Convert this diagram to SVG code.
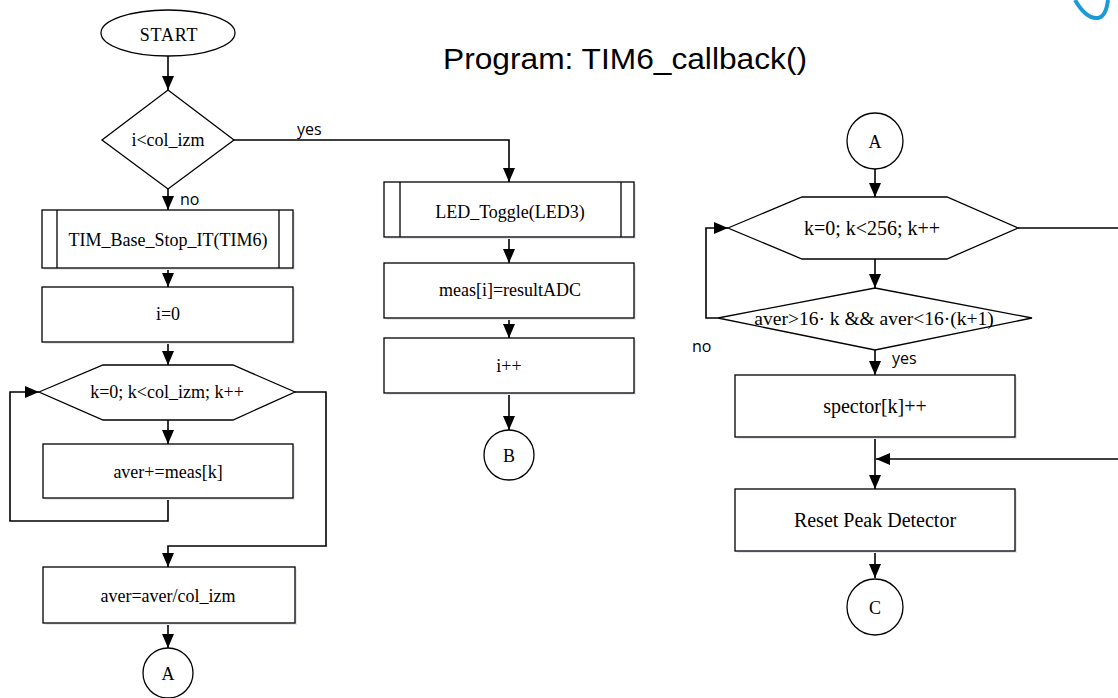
<svg xmlns="http://www.w3.org/2000/svg" width="1118" height="698" viewBox="0 0 1118 698">
<style>
.shape{fill:#fff;stroke:#000;stroke-width:1.3}
.shadow{fill:#e6eaf0;stroke:none}
.t{font-family:"Liberation Serif",serif;font-size:18px;fill:#000;text-anchor:middle;dominant-baseline:central}
.t2{font-size:20px}
.tc{font-size:18px}
.lbl{font-family:"Open Sans","Liberation Sans",sans-serif;font-size:16px;fill:#000}
.c{fill:none;stroke:#000;stroke-width:1.6}
</style>
<defs>
<marker id="ah" viewBox="0 0 14 12" refX="14" refY="6" markerWidth="14" markerHeight="12" markerUnits="userSpaceOnUse" orient="auto">
<path d="M0,0 L14,6 L0,12 z" fill="#000"/>
</marker>
</defs>
<rect width="1118" height="698" fill="#fff"/>
<path d="M1075,0 C1082,12 1090,19 1098,18 C1104,17 1107,8 1108,0" fill="none" stroke="#1a9ad6" stroke-width="4"/>
<text x="625" y="69" font-family="Liberation Sans,Arial,sans-serif" font-size="29" text-anchor="middle" textLength="364" lengthAdjust="spacingAndGlyphs" fill="#000">Program: TIM6_callback()</text>

<g id="connectors">
<path class="c" d="M168,56 V90" marker-end="url(#ah)"/>
<path class="c" d="M234,140 H509 V182" marker-end="url(#ah)"/>
<path class="c" d="M168,189 V210" marker-end="url(#ah)"/>
<path class="c" d="M168,268 V287" marker-end="url(#ah)"/>
<path class="c" d="M168,342 V365" marker-end="url(#ah)"/>
<path class="c" d="M168,420 V444" marker-end="url(#ah)"/>
<path class="c" d="M168,498 V521 H10 V392 H39" marker-end="url(#ah)"/>
<path class="c" d="M295,392 H326 V546 H168 V567" marker-end="url(#ah)"/>
<path class="c" d="M168,623 V648" marker-end="url(#ah)"/>
<path class="c" d="M509,237 V263" marker-end="url(#ah)"/>
<path class="c" d="M509,318 V338" marker-end="url(#ah)"/>
<path class="c" d="M509,393 V430" marker-end="url(#ah)"/>
<path class="c" d="M875,169 V197" marker-end="url(#ah)"/>
<path class="c" d="M875,259 V288" marker-end="url(#ah)"/>
<path class="c" d="M875,350 V375" marker-end="url(#ah)"/>
<path class="c" d="M718,318 H706 V228 H728" marker-end="url(#ah)"/>
<path class="c" d="M1018,228 H1118"/>
<path class="c" d="M875,437 V489" marker-end="url(#ah)"/>
<path class="c" d="M1118,459 H876" marker-end="url(#ah)"/>
<path class="c" d="M875,551 V578" marker-end="url(#ah)"/>
<text class="lbl" x="297" y="135">yes</text>
<text class="lbl" x="180" y="205">no</text>
<text class="lbl" x="692" y="352">no</text>
<text class="lbl" x="892" y="364">yes</text>
</g>

<g id="start">
<ellipse class="shape" cx="168" cy="33" rx="67" ry="23"/>
<text class="t" x="169" y="35" letter-spacing="0.8">START</text>
</g>
<g id="cond1">
<polygon class="shape" points="168,90 234,140 168,189 102,140"/>
<text class="t" x="168" y="140">i&lt;col_izm</text>
</g>
<g id="tim_stop">
<rect class="shadow" x="44" y="212" width="251" height="58"/>
<rect class="shape" x="42" y="210" width="251" height="58"/>
<line class="shape" x1="57" y1="210" x2="57" y2="268"/>
<line class="shape" x1="279" y1="210" x2="279" y2="268"/>
<text class="t" x="168" y="240">TIM_Base_Stop_IT(TIM6)</text>
</g>
<g id="i0">
<rect class="shadow" x="44" y="289" width="251" height="55"/>
<rect class="shape" x="42" y="287" width="251" height="55"/>
<text class="t" x="168" y="314">i=0</text>
</g>
<g id="loop1">
<polygon class="shape" points="39,392 103,365 233,365 295,392 233,420 103,420"/>
<text class="t" x="167" y="392">k=0; k&lt;col_izm; k++</text>
</g>
<g id="aver_sum">
<rect class="shadow" x="45" y="446" width="250" height="54"/>
<rect class="shape" x="43" y="444" width="250" height="54"/>
<text class="t" x="168" y="472">aver+=meas[k]</text>
</g>
<g id="aver_div">
<rect class="shadow" x="45" y="569" width="252" height="56"/>
<rect class="shape" x="43" y="567" width="252" height="56"/>
<text class="t" x="168" y="596">aver=aver/col_izm</text>
</g>
<g id="connA1">
<circle class="shape" cx="168" cy="673" r="25"/>
<text class="t tc" x="168" y="674">A</text>
</g>

<g id="led">
<rect class="shadow" x="386" y="184" width="250" height="55"/>
<rect class="shape" x="384" y="182" width="250" height="55"/>
<line class="shape" x1="400" y1="182" x2="400" y2="237"/>
<line class="shape" x1="621" y1="182" x2="621" y2="237"/>
<text class="t" x="510" y="212">LED_Toggle(LED3)</text>
</g>
<g id="meas">
<rect class="shadow" x="386" y="265" width="250" height="55"/>
<rect class="shape" x="384" y="263" width="250" height="55"/>
<text class="t" x="510" y="290">meas[i]=resultADC</text>
</g>
<g id="iinc">
<rect class="shadow" x="386" y="340" width="250" height="55"/>
<rect class="shape" x="384" y="338" width="250" height="55"/>
<text class="t" x="509" y="366">i++</text>
</g>
<g id="connB">
<circle class="shape" cx="509" cy="455" r="25"/>
<text class="t tc" x="509" y="456">B</text>
</g>

<g id="connA2">
<circle class="shape" cx="875" cy="141" r="28"/>
<text class="t tc" x="875" y="142">A</text>
</g>
<g id="loop2">
<polygon class="shape" points="728,228 802,197 947,197 1018,228 947,259 802,259"/>
<text class="t t2" x="872" y="228">k=0; k&lt;256; k++</text>
</g>
<g id="cond2">
<polygon class="shape" points="875,288 1032,318 875,350 718,318"/>
<text class="t" x="874" y="318" style="font-size:19.5px">aver&gt;16· k &amp;&amp; aver&lt;16·(k+1)</text>
</g>
<g id="spector">
<rect class="shadow" x="737" y="377" width="280" height="62"/>
<rect class="shape" x="735" y="375" width="280" height="62"/>
<text class="t t2" x="875" y="406">spector[k]++</text>
</g>
<g id="reset">
<rect class="shadow" x="737" y="491" width="280" height="62"/>
<rect class="shape" x="735" y="489" width="280" height="62"/>
<text class="t t2" x="875" y="520">Reset Peak Detector</text>
</g>
<g id="connC">
<circle class="shape" cx="875" cy="607" r="28"/>
<text class="t tc" x="875" y="608">C</text>
</g>
</svg>
